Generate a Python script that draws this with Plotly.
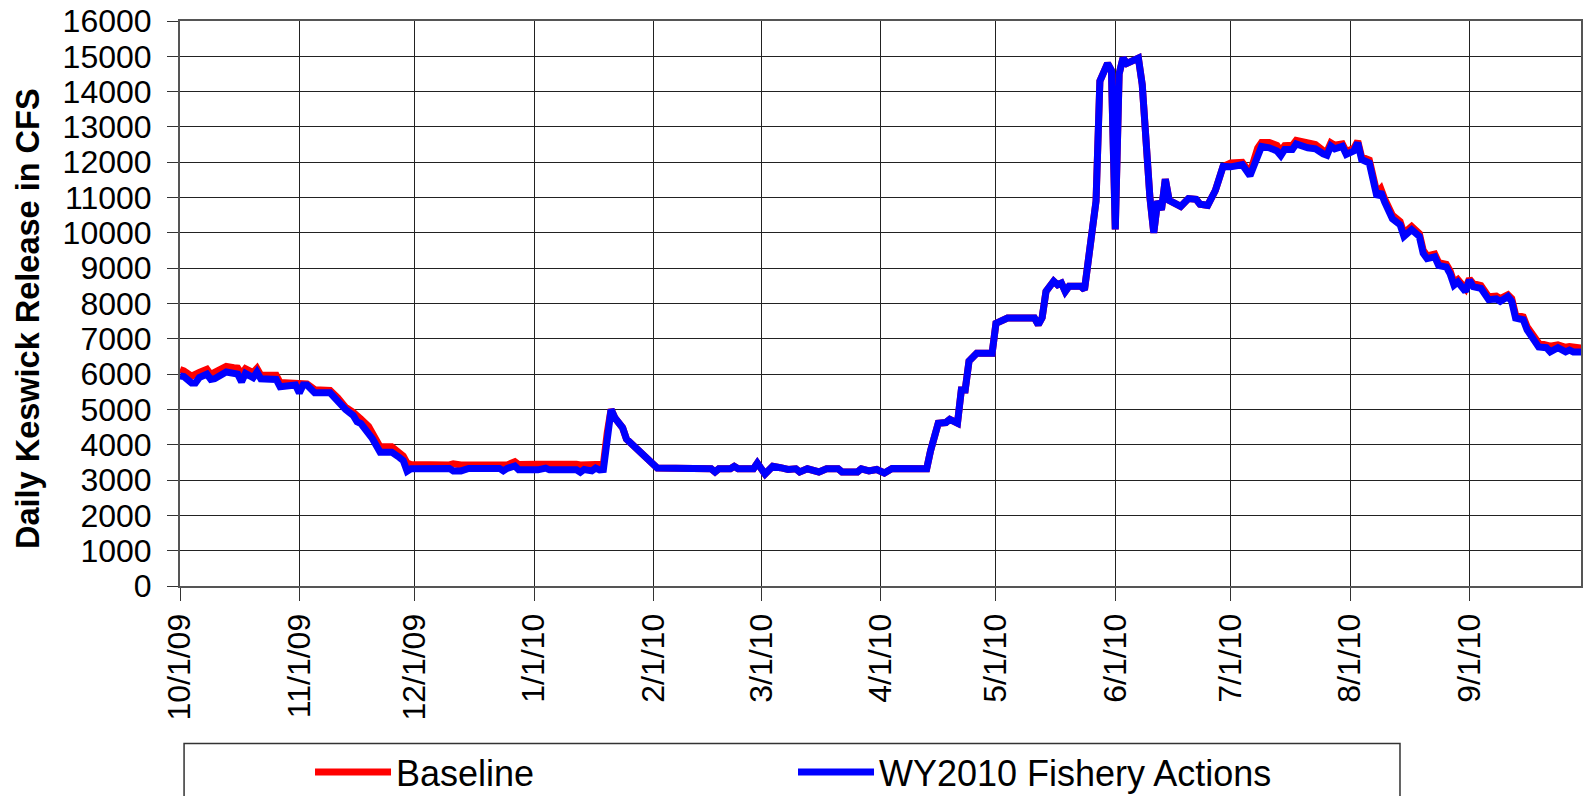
import plotly.graph_objects as go

# ---- data ----
dates = [
    "2009-10-01", "2009-10-02", "2009-10-04", "2009-10-05", "2009-10-06", "2009-10-08", "2009-10-09",
    "2009-10-10", "2009-10-13", "2009-10-15", "2009-10-16", "2009-10-17", "2009-10-18", "2009-10-20",
    "2009-10-21", "2009-10-22", "2009-10-26", "2009-10-27", "2009-10-31",
    "2009-11-01", "2009-11-02", "2009-11-03", "2009-11-05", "2009-11-09", "2009-11-11", "2009-11-12",
    "2009-11-13", "2009-11-15", "2009-11-16", "2009-11-17", "2009-11-19", "2009-11-20", "2009-11-22",
    "2009-11-25", "2009-11-27", "2009-11-28", "2009-11-29", "2009-11-30",
    "2009-12-10", "2009-12-11", "2009-12-13", "2009-12-15", "2009-12-23", "2009-12-24", "2009-12-25",
    "2009-12-27", "2009-12-28",
    "2010-01-02", "2010-01-04", "2010-01-05", "2010-01-12", "2010-01-13", "2010-01-14", "2010-01-16",
    "2010-01-17", "2010-01-18", "2010-01-19", "2010-01-20", "2010-01-21", "2010-01-22", "2010-01-24",
    "2010-01-25", "2010-01-28", "2010-01-30", "2010-01-31",
    "2010-02-02", "2010-02-16", "2010-02-17", "2010-02-18", "2010-02-21", "2010-02-22", "2010-02-23",
    "2010-02-27", "2010-02-28",
    "2010-03-02", "2010-03-04", "2010-03-06", "2010-03-08", "2010-03-10", "2010-03-11", "2010-03-13",
    "2010-03-15", "2010-03-16", "2010-03-18", "2010-03-21", "2010-03-22", "2010-03-26", "2010-03-27",
    "2010-03-29", "2010-03-31",
    "2010-04-02", "2010-04-04", "2010-04-13", "2010-04-14", "2010-04-16", "2010-04-18", "2010-04-19",
    "2010-04-21", "2010-04-22", "2010-04-23", "2010-04-24", "2010-04-26", "2010-04-30",
    "2010-05-01", "2010-05-03", "2010-05-04", "2010-05-11", "2010-05-12", "2010-05-13", "2010-05-14",
    "2010-05-16", "2010-05-17", "2010-05-18", "2010-05-19", "2010-05-20", "2010-05-23", "2010-05-24",
    "2010-05-25", "2010-05-26", "2010-05-27", "2010-05-28", "2010-05-29", "2010-05-30", "2010-05-31",
    "2010-06-01", "2010-06-02", "2010-06-03", "2010-06-04", "2010-06-05", "2010-06-06", "2010-06-07",
    "2010-06-08", "2010-06-09", "2010-06-10", "2010-06-11", "2010-06-12", "2010-06-13", "2010-06-14",
    "2010-06-15", "2010-06-16", "2010-06-18", "2010-06-20", "2010-06-22", "2010-06-23", "2010-06-25",
    "2010-06-27", "2010-06-29",
    "2010-07-01", "2010-07-03", "2010-07-04", "2010-07-06", "2010-07-08", "2010-07-09", "2010-07-11",
    "2010-07-13", "2010-07-14", "2010-07-15", "2010-07-17", "2010-07-18", "2010-07-21", "2010-07-23",
    "2010-07-25", "2010-07-26", "2010-07-27", "2010-07-28", "2010-07-30", "2010-07-31",
    "2010-08-02", "2010-08-03", "2010-08-04", "2010-08-06", "2010-08-08", "2010-08-09", "2010-08-10",
    "2010-08-12", "2010-08-14", "2010-08-15", "2010-08-17", "2010-08-19", "2010-08-20", "2010-08-21",
    "2010-08-23", "2010-08-24", "2010-08-26", "2010-08-27", "2010-08-28", "2010-08-29", "2010-08-31",
    "2010-09-01", "2010-09-02", "2010-09-04", "2010-09-06", "2010-09-08", "2010-09-09", "2010-09-11",
    "2010-09-12", "2010-09-13", "2010-09-15", "2010-09-16", "2010-09-19", "2010-09-21", "2010-09-22",
    "2010-09-24", "2010-09-26", "2010-09-27", "2010-09-28", "2010-09-30",
]

fishery_actions = [
    5950, 5930, 5750, 5750, 5900, 6000, 5850,
    5870, 6060, 6050, 6000, 5780, 6020, 5900,
    6060, 5870, 5850, 5640, 5690,
    5470, 5690, 5690, 5470, 5470, 5220, 5080,
    5000, 4830, 4650, 4600, 4360, 4170, 3790,
    3790, 3640, 3550, 3250, 3320,
    3330, 3260, 3260, 3330, 3330, 3260, 3330,
    3400, 3290,
    3290, 3340, 3290, 3290, 3220, 3300, 3260,
    3340, 3290, 3300, 4340, 5000, 4760, 4480,
    4160, 3830, 3630, 3500,
    3340, 3320, 3230, 3320, 3320, 3390, 3320,
    3320, 3480,
    3170, 3390, 3350, 3300, 3320, 3230, 3320,
    3230, 3230, 3320, 3320, 3230, 3230, 3320,
    3260, 3300,
    3200, 3330, 3320, 3830, 4610, 4630, 4720,
    4610, 5550, 5550, 6370, 6590, 6590,
    7440, 7510, 7590, 7590, 7400, 7600, 8340,
    8630, 8530, 8580, 8340, 8490, 8490, 8390,
    9220, 9900, 10900, 14300, 14600, 14800, 14600,
    10100, 14500, 14950, 14800, 14850, 14900, 14950,
    14200, 12400, 11000, 10000, 10900, 10650, 11520,
    10920, 10880, 10750, 10970, 10950, 10810, 10780,
    11200, 11880,
    11870, 11900, 11930, 11620, 12270, 12450, 12410,
    12320, 12190, 12360, 12360, 12520, 12410, 12380,
    12240, 12200, 12460, 12380, 12450, 12220,
    12320, 12550, 12080, 11980, 11020, 11160, 10870,
    10400, 10230, 9900, 10090, 9900, 9420, 9270,
    9320, 9080, 9030, 8840, 8520, 8610, 8340,
    8660, 8480, 8430, 8110, 8130, 8060, 8200,
    8060, 7590, 7540, 7250, 6770, 6750, 6630,
    6750, 6630, 6680, 6630, 6630,
]

baseline = [
    6130, 6090, 5940, 6020, 6050, 6140, 5990,
    6050, 6220, 6180, 6170, 6000, 6150, 6040,
    6160, 5970, 5970, 5760, 5740,
    5720, 5740, 5720, 5560, 5540, 5330, 5180,
    5060, 4920, 4800, 4730, 4520, 4330, 3940,
    3940, 3800, 3680, 3480, 3440,
    3430, 3460, 3430, 3430, 3430, 3440, 3430,
    3520, 3440,
    3450, 3460, 3450, 3450, 3430, 3440, 3450,
    3450, 3450, 3450, 4340, 5000, 4760, 4480,
    4160, 3830, 3630, 3500,
    3340, 3320, 3230, 3320, 3320, 3390, 3320,
    3320, 3480,
    3170, 3390, 3350, 3300, 3320, 3230, 3320,
    3230, 3230, 3320, 3320, 3230, 3230, 3320,
    3260, 3300,
    3200, 3330, 3320, 3830, 4610, 4630, 4720,
    4610, 5550, 5550, 6370, 6590, 6590,
    7440, 7510, 7590, 7590, 7400, 7600, 8340,
    8630, 8530, 8580, 8340, 8490, 8490, 8390,
    9220, 9900, 10900, 14300, 14600, 14800, 14600,
    10100, 14500, 14950, 14800, 14850, 14900, 14950,
    14200, 12400, 11000, 10000, 10900, 10650, 11520,
    10920, 10880, 10750, 10970, 10950, 10810, 10780,
    11200, 11880,
    11980, 12000, 12000, 11700, 12400, 12560, 12560,
    12480, 12320, 12470, 12480, 12620, 12530, 12500,
    12330, 12300, 12550, 12480, 12520, 12300,
    12400, 12600, 12150, 12060, 11120, 11250, 10960,
    10500, 10320, 9990, 10180, 9980, 9510, 9350,
    9400, 9160, 9110, 8920, 8600, 8680, 8420,
    8700, 8560, 8510, 8190, 8210, 8140, 8250,
    8140, 7680, 7620, 7340, 6880, 6850, 6790,
    6830, 6760, 6780, 6750, 6740,
]

tick_dates = ["2009-10-01", "2009-11-01", "2009-12-01", "2010-01-01", "2010-02-01", "2010-03-01",
              "2010-04-01", "2010-05-01", "2010-06-01", "2010-07-01", "2010-08-01", "2010-09-01"]
tick_labels = ["10/1/09", "11/1/09", "12/1/09", "1/1/10", "2/1/10", "3/1/10",
               "4/1/10", "5/1/10", "6/1/10", "7/1/10", "8/1/10", "9/1/10"]
y_ticks = [0, 1000, 2000, 3000, 4000, 5000, 6000, 7000, 8000,
           9000, 10000, 11000, 12000, 13000, 14000, 15000, 16000]
y_tick_labels = ["0", "1000", "2000", "3000", "4000", "5000", "6000", "7000", "8000",
                 "9000", "10000", "11000", "12000", "13000", "14000", "15000", "16000"]

series_names = ["Baseline", "WY2010 Fishery Actions"]
y_title = "Daily Keswick Release in CFS"

FONT = "Liberation Sans, Arial, sans-serif"

fig = go.Figure()
fig.add_trace(go.Scatter(x=dates, y=baseline, mode="lines", name=series_names[0],
                         line=dict(color="#FF0000", width=7)))
fig.add_trace(go.Scatter(x=dates, y=fishery_actions, mode="lines", name=series_names[1],
                         line=dict(color="#0000FF", width=7)))

fig.update_layout(
    width=1591, height=796,
    margin=dict(l=180, r=10, t=21, b=210, autoexpand=False),
    paper_bgcolor="white", plot_bgcolor="white",
    font=dict(family=FONT, color="black", size=32),
    showlegend=True,
    legend=dict(orientation="h", x=0.0928, xanchor="left", y=-0.2763, yanchor="top",
                font=dict(size=36, family=FONT, color="black"),
                itemwidth=76, entrywidth=392, entrywidthmode="pixels",
                bgcolor="rgba(0,0,0,0)", borderwidth=0),
    shapes=[dict(type="rect", xref="paper", yref="paper",
                 x0=0.0029, x1=0.8708, y0=-0.2788, y1=-0.45,
                 line=dict(color="#333333", width=1.5), fillcolor="rgba(0,0,0,0)")],
    annotations=[dict(text="<b>" + y_title + "</b>", xref="paper", yref="paper",
                      x=-0.109, y=0.473, xanchor="center", yanchor="middle",
                      textangle=-90, showarrow=False,
                      font=dict(size=32.5, family=FONT, color="black"))],
)

fig.update_xaxes(
    type="date", range=["2009-10-01", "2010-09-30"],
    tickmode="array", tickvals=tick_dates, ticktext=tick_labels, tickangle=-90,
    tickfont=dict(size=32, family=FONT, color="black"),
    ticks="outside", ticklen=13, tickcolor="#333333", tickwidth=1,
    showgrid=True, gridcolor="#222222", gridwidth=1,
    showline=True, linecolor="#555555", linewidth=2, mirror=True,
    zeroline=False, automargin=False,
)
fig.update_yaxes(
    range=[0, 16000], tickmode="array", tickvals=y_ticks, ticktext=y_tick_labels,
    tickfont=dict(size=32, family=FONT, color="black"),
    ticks="outside", ticklen=11, tickcolor="#333333", tickwidth=1,
    ticklabelstandoff=9,
    showgrid=True, gridcolor="#222222", gridwidth=1,
    showline=True, linecolor="#555555", linewidth=2, mirror=True,
    zeroline=False, automargin=False,
)

fig.write_html("out.html", config={"displayModeBar": False},
               post_script="document.body.style.margin='0';document.body.style.overflow='hidden';")
